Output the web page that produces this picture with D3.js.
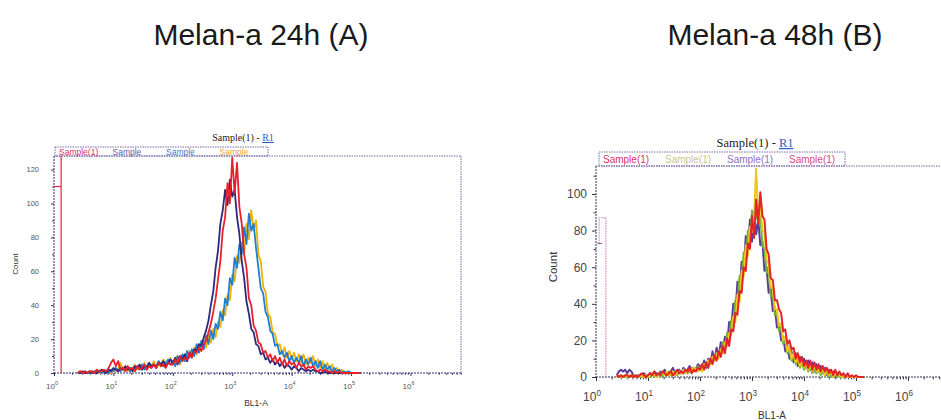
<!DOCTYPE html>
<html>
<head>
<meta charset="utf-8">
<script src="https://cdn.jsdelivr.net/npm/d3@7"></script>
<style>
  body { margin: 0; background: #fff; }
  svg { display: block; font-family: "Liberation Sans", Arial, sans-serif; }
</style>
</head>
<body>
<svg id="chart" width="941" height="420"></svg>
<script>
// Histogram bins: log10(BL1-A) of the first bin and the bin width in decades
const binStartLog = 0.4;
const binStepLog = 0.04;

const decades = [0, 1, 2, 3, 4, 5, 6];
const countTicks24 = [0, 20, 40, 60, 80, 100, 120];
const countTicks48 = [0, 20, 40, 60, 80, 100];
const legend24 = ["Sample(1)", "Sample", "Sample", "Sample"];
const legend48 = ["Sample(1)", "Sample(1)", "Sample(1)", "Sample(1)"];

// Gate R1: lower bound (log10) and marker level (count)
const gate24 = { lowLog: 0.12, level: 110 };
const gate48 = { lowLog: 0.06, highLog: 0.19, level: 87, inner: 73 };

// Melan-a 24h counts per bin
const h24_red = [
  0,1,0,1,0,1,1,0,2,1, 1,2,1,3,6,8,4,7,2,3, 1,4,2,3,1,4,2,3,5,2, 4,3,5,3,6,4,5,3,6,5,
  5,8,6,10,7,9,8,12,9,13, 12,15,13,17,19,24,29,36,44,55, 66,84,92,112,100,127,106,124,98,88,
  70,62,44,40,28,25,18,17,12,13, 9,11,7,10,6,9,5,8,4,7, 5,6,3,6,4,5,2,4,3,4,
  2,1,2,1,2,1,1,0,1,0, 1,0,0,0,0,0,0,0,0,0];
const h24_navy = [
  0,0,1,0,0,1,0,1,0,1, 2,1,0,2,1,3,2,1,3,2, 4,2,3,1,4,3,5,2,4,3, 6,4,5,3,6,5,7,4,6,8,
  6,9,5,10,8,11,7,12,10,14, 13,17,16,21,25,31,40,48,62,72, 88,96,108,99,114,104,108,92,82,66,
  56,42,35,26,24,17,16,11,12,8, 9,6,8,5,7,4,6,3,5,4, 2,4,3,1,3,2,1,2,1,2,
  1,1,0,0,1,0,0,0,0,0, 0,0,0,0,0,0,0,0,0,0];
const h24_blue = [
  0,0,0,1,0,0,1,0,0,1, 0,1,1,0,2,1,3,2,1,3, 2,4,1,3,2,4,3,5,2,4, 6,3,5,4,7,5,4,6,8,5,
  7,4,10,6,11,7,13,9,14,10, 17,12,19,14,22,17,25,20,29,26, 36,31,44,40,56,52,68,62,76,70,
  86,76,94,84,88,74,62,50,47,36, 33,25,23,16,17,11,13,9,12,7, 10,6,9,6,10,4,8,5,9,4,
  7,3,7,2,5,2,4,1,3,1, 2,0,1,0,1,0,0,0,0,0];
const h24_yellow = [
  0,1,0,0,0,1,0,0,1,0, 0,1,0,1,0,2,1,3,6,2, 4,1,3,2,5,2,4,3,6,2, 5,4,7,3,5,4,8,5,6,9,
  5,8,10,5,10,11,7,13,9,15, 11,17,13,19,15,22,18,26,21,30, 27,37,34,46,43,58,54,69,65,77,
  71,88,79,96,84,90,70,66,51,48, 35,33,24,23,16,17,11,15,9,13, 8,12,7,11,6,11,5,9,6,10,
  4,8,3,7,2,6,2,5,1,3, 1,2,0,1,0,0,0,0,0,0];

// Melan-a 48h counts per bin
const h48_red = [
  1,0,1,0,1,1,0,1,0,1, 0,1,2,1,0,1,2,1,3,1, 2,1,3,2,1,2,3,1,2,4, 2,3,2,4,3,5,2,4,3,5,
  4,7,4,8,5,10,7,12,9,14, 11,17,13,21,17,26,25,35,34,47, 46,60,58,73,70,88,76,97,84,101,
  88,86,70,67,54,53,42,42,37,35, 25,26,18,20,15,16,10,13,8,11, 6,9,5,9,4,8,4,7,3,6,
  3,5,2,4,1,4,1,3,1,2, 0,2,0,1,0,1,0,0,0,0];
const h48_yellow = [
  0,1,0,0,1,0,1,0,0,1, 0,0,1,0,1,0,1,2,1,0, 2,1,2,1,3,1,2,3,1,2, 3,2,4,2,3,4,3,5,4,3,
  5,3,7,6,9,7,11,9,13,10, 15,13,19,17,24,23,33,30,45,41, 58,55,72,66,82,79,88,114,86,96,
  80,79,64,62,49,49,37,37,28,29, 20,22,14,17,10,13,8,11,6,9, 5,8,4,7,3,6,3,4,2,5,
  1,4,1,3,0,2,1,1,0,1, 0,0,0,0,0,0,0,0,0,0];
const h48_green = [
  0,0,1,0,0,0,1,0,1,0, 0,1,0,0,1,1,0,2,0,1, 1,2,0,2,1,3,1,2,3,1, 3,2,3,4,2,3,5,3,4,6,
  4,6,5,8,7,10,9,12,11,14, 13,19,15,24,21,31,30,42,40,55, 52,68,64,80,76,91,80,92,84,88,
  72,70,57,58,44,45,34,35,25,27, 18,20,13,15,9,12,7,10,5,8, 4,7,3,6,2,5,2,4,1,3,
  1,2,0,2,0,1,0,1,0,0, 0,0,0,0,0,0,0,0,0,0];
const h48_purple = [
  1,3,4,3,4,2,4,3,1,0, 1,0,1,2,1,0,2,1,3,2, 1,3,2,4,1,2,3,5,2,3, 4,2,5,3,4,6,3,5,4,7,
  6,4,9,5,10,7,14,9,16,11, 19,14,22,17,30,26,40,34,52,46, 63,57,77,68,86,74,90,78,86,72,
  74,58,60,46,48,36,38,27,29,20, 22,14,17,10,14,8,13,6,11,7, 10,5,9,4,8,3,7,3,6,2,
  5,1,4,1,3,0,2,1,1,0, 0,0,0,0,0,0,0,0,0,0];

const svg = d3.select("#chart");

// Figure titles
svg.append("text").attr("x", 261).attr("y", 45).attr("text-anchor", "middle")
  .attr("font-size", 30).attr("fill", "#1a1a1a").text("Melan-a 24h (A)");
svg.append("text").attr("x", 775).attr("y", 45).attr("text-anchor", "middle")
  .attr("font-size", 30).attr("fill", "#1a1a1a").text("Melan-a 48h (B)");

const panels = [
  {
    id: "a", left: 54, right: 461, top: 156, bottom: 373, maxLog: 6.85, maxCount: 128,
    fs: 7.5, xfs: 8, lw: 1.8, tick: 3, yPad: 12, xLabelDy: 16, xLabelDx: -2, textColor: "#555",
    frame: "#6a6aa0", axisColor: "#2a2a6a",
    countTicks: countTicks24,
    series: [
      { values: h24_yellow, color: "#f2b000" },
      { values: h24_blue, color: "#1f7fd2" },
      { values: h24_navy, color: "#2b2a7c" },
      { values: h24_red, color: "#e8202c" }
    ],
    legend: { x: 55, y: 147, w: 213, h: 9, fs: 8.5, labels: legend24,
      colors: ["#e0305a", "#6a58a8", "#3a7ad0", "#f0a828"], step: 53.5, baseline: 8 },
    title: { x: 243, y: 141, fs: 10 },
    xTitle: { x: 256, y: 406, fs: 8.5 },
    yTitle: { x: 18, y: 264, fs: 8 }
  },
  {
    id: "b", left: 596, right: 960, top: 166, bottom: 377, maxLog: 7, maxCount: 115.3,
    fs: 12, xfs: 12, lw: 2, tick: 4, yPad: 5, xLabelDy: 24, xLabelDx: -4, textColor: "#444",
    frame: "#6a6aa0", axisColor: "#33334a",
    countTicks: countTicks48,
    series: [
      { values: h48_purple, color: "#5b3c9c" },
      { values: h48_green, color: "#6cb23e" },
      { values: h48_yellow, color: "#ecc818" },
      { values: h48_red, color: "#e3222a" }
    ],
    legend: { x: 599, y: 152, w: 246, h: 14, fs: 10, labels: legend48,
      colors: ["#e0306a", "#c8c88c", "#9070c0", "#d84a80"], step: 62, baseline: 11 },
    title: { x: 755, y: 147, fs: 12.5 },
    xTitle: { x: 772, y: 419, fs: 10 },
    yTitle: { x: 557, y: 267, fs: 11.5 }
  }
];

panels.forEach(p => {
  const g = svg.append("g");
  const x = d3.scaleLog().domain([1, Math.pow(10, p.maxLog)]).range([p.left, p.right]);
  const y = d3.scaleLinear().domain([0, p.maxCount]).range([p.bottom, p.top]);

  // frame: top and right borders (dotted), axes lines
  g.append("line").attr("x1", p.left).attr("x2", p.right).attr("y1", p.top).attr("y2", p.top)
    .attr("stroke", p.frame).attr("stroke-width", 1).attr("stroke-dasharray", "1.5,1");
  g.append("line").attr("x1", p.right).attr("x2", p.right).attr("y1", p.top).attr("y2", p.bottom)
    .attr("stroke", p.frame).attr("stroke-width", 1).attr("stroke-dasharray", "1.5,1");
  g.append("line").attr("x1", p.left).attr("x2", p.right).attr("y1", p.bottom).attr("y2", p.bottom)
    .attr("stroke", p.axisColor).attr("stroke-width", 1).attr("stroke-dasharray", "2,1");
  g.append("line").attr("x1", p.left).attr("x2", p.left).attr("y1", p.top).attr("y2", p.bottom)
    .attr("stroke", p.axisColor).attr("stroke-width", 1).attr("stroke-dasharray", "2,1");

  // y axis with minor ticks
  const minorY = d3.range(0, p.maxCount, 10).filter(v => !p.countTicks.includes(v));
  g.append("g").attr("transform", `translate(${p.left},0)`)
    .call(d3.axisLeft(y).tickValues(minorY).tickSize(p.tick * 0.6).tickFormat(""))
    .call(a => { a.select(".domain").remove(); a.selectAll("line").attr("stroke", p.axisColor); });
  const ya = g.append("g").attr("transform", `translate(${p.left},0)`)
    .call(d3.axisLeft(y).tickValues(p.countTicks).tickSize(p.tick).tickPadding(p.yPad));
  ya.select(".domain").remove();
  ya.selectAll("line").attr("stroke", p.axisColor);
  ya.selectAll("text").attr("font-size", p.fs).attr("fill", p.textColor)
    .attr("font-family", "\"Liberation Sans\", Arial, sans-serif");

  // x axis: decade ticks, log minor ticks, labels 10^n
  const minorX = [];
  decades.forEach(d => {
    for (let k = 2; k < 10; k++) {
      const v = k * Math.pow(10, d);
      if (v < x.domain()[1]) minorX.push(v);
    }
  });
  g.append("g").attr("transform", `translate(0,${p.bottom})`)
    .call(d3.axisBottom(x).tickValues(minorX).tickSize(p.tick * 0.6).tickFormat(""))
    .call(a => { a.select(".domain").remove(); a.selectAll("line").attr("stroke", p.axisColor); });
  g.append("g").attr("transform", `translate(0,${p.bottom})`)
    .call(d3.axisBottom(x).tickValues(decades.map(d => Math.pow(10, d))).tickSize(p.tick).tickFormat(""))
    .call(a => { a.select(".domain").remove(); a.selectAll("line").attr("stroke", p.axisColor); });
  decades.forEach(d => {
    const t = g.append("text").attr("x", x(Math.pow(10, d)) + p.xLabelDx).attr("y", p.bottom + p.xLabelDy)
      .attr("text-anchor", "middle").attr("font-size", p.xfs).attr("fill", p.textColor);
    t.append("tspan").text("10");
    t.append("tspan").attr("dy", -p.xfs * 0.45).attr("font-size", p.xfs * 0.68).text(d);
  });

  // axis titles
  g.append("text").attr("x", p.xTitle.x).attr("y", p.xTitle.y).attr("text-anchor", "middle")
    .attr("font-size", p.xTitle.fs).attr("fill", "#333").text("BL1-A");
  g.append("text").attr("transform", `translate(${p.yTitle.x},${p.yTitle.y}) rotate(-90)`)
    .attr("text-anchor", "middle").attr("font-size", p.yTitle.fs).attr("fill", "#333").text("Count");

  // histogram traces
  const clipId = "clip-" + p.id;
  g.append("clipPath").attr("id", clipId).append("rect")
    .attr("x", p.left).attr("y", p.top - 6)
    .attr("width", p.right - p.left).attr("height", p.bottom - p.top + 8);
  const line = d3.line()
    .x((c, i) => x(Math.pow(10, binStartLog + i * binStepLog)))
    .y(c => y(c));
  p.series.forEach(s => {
    g.append("path").attr("d", line(s.values)).attr("fill", "none")
      .attr("stroke", s.color).attr("stroke-width", p.lw).attr("stroke-linejoin", "round")
      .attr("clip-path", `url(#${clipId})`);
  });

  // legend box
  const L = p.legend;
  g.append("rect").attr("x", L.x).attr("y", L.y).attr("width", L.w).attr("height", L.h)
    .attr("fill", "none").attr("stroke", "#7a6aa8").attr("stroke-width", 1).attr("stroke-dasharray", "1.5,1");
  L.labels.forEach((lab, i) => {
    g.append("text").attr("x", L.x + 4 + i * L.step).attr("y", L.y + L.baseline)
      .attr("font-size", L.fs).attr("fill", L.colors[i]).text(lab);
  });

  // plot title "Sample(1) - R1"
  const tt = g.append("text").attr("x", p.title.x).attr("y", p.title.y).attr("text-anchor", "middle")
    .attr("font-size", p.title.fs).attr("font-family", "\"Liberation Serif\", serif").attr("fill", "#222");
  tt.append("tspan").text("Sample(1) - ");
  tt.append("tspan").attr("fill", "#2a62c8").attr("text-decoration", "underline").text("R1");

  // gate R1 marker
  if (p.id === "a") {
    const gx = x(Math.pow(10, gate24.lowLog));
    g.append("line").attr("x1", gx).attr("x2", gx).attr("y1", p.top).attr("y2", p.bottom)
      .attr("stroke", "#e8203c").attr("stroke-width", 1.2);
    g.append("line").attr("x1", p.left).attr("x2", gx).attr("y1", y(gate24.level)).attr("y2", y(gate24.level))
      .attr("stroke", "#e8203c").attr("stroke-width", 1.2);
  } else {
    const gl = x(Math.pow(10, gate48.lowLog)), gh = x(Math.pow(10, gate48.highLog));
    const path = d3.path();
    path.moveTo(gl, y(gate48.inner));
    path.lineTo(gl, y(gate48.level));
    path.lineTo(gh, y(gate48.level));
    path.lineTo(gh, y(0));
    g.append("path").attr("d", path.toString()).attr("fill", "none")
      .attr("stroke", "#d070a8").attr("stroke-width", 1).attr("stroke-dasharray", "1.5,1");
    g.append("line").attr("x1", gl - 2).attr("x2", gl + 3).attr("y1", y(gate48.inner)).attr("y2", y(gate48.inner))
      .attr("stroke", "#a05080").attr("stroke-width", 1);
  }
});
</script>
</body>
</html>
